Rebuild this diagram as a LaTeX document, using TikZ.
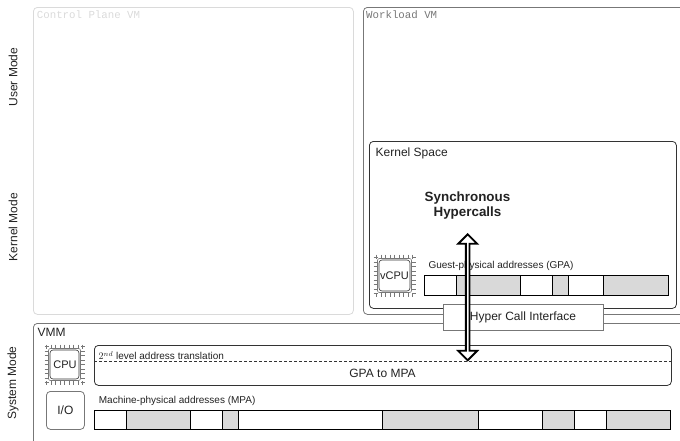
\documentclass[tikz,border=0pt]{standalone}
\usepackage{fontspec}
\setmainfont{Liberation Sans}
\newfontfamily\monofont{Liberation Mono}
\usetikzlibrary{shapes.arrows}
\definecolor{graybar}{HTML}{D9D9D9}
\definecolor{paleline}{HTML}{DADADA}
\definecolor{midline}{HTML}{777777}
\definecolor{darkline}{HTML}{333333}
\definecolor{labelcol}{HTML}{222222}
\tikzset{
    region/.style={draw,rounded corners=4pt,anchor=north west,inner sep=0pt,line width=.8pt},
    lbl/.style={text=labelcol,font=\fontsize{12}{14}\selectfont,inner sep=0pt},
    chiplbl/.style={text=labelcol,font=\fontsize{11}{13}\selectfont,inner sep=0pt},
    smalllbl/.style={text=labelcol,font=\fontsize{10}{12}\selectfont,inner sep=0pt,anchor=west},
    vmname/.style={font=\monofont\fontsize{10.75}{12}\selectfont,inner sep=0pt,anchor=west},
    modelbl/.style={lbl,rotate=90},
    cell/.style={draw=black,line width=.7pt},
    chip/.pic={
        \foreach \k in {0,...,8}{
            \draw[midline,line width=.6pt] ({-18+\k*4.5},-\chipsize) -- ({-18+\k*4.5},{-\chipsize+4});
            \draw[midline,line width=.6pt] ({-18+\k*4.5},\chipsize) -- ({-18+\k*4.5},{\chipsize-4});
            \draw[midline,line width=.6pt] (-\chipsize,{-18+\k*4.5}) -- ({-\chipsize+4},{-18+\k*4.5});
            \draw[midline,line width=.6pt] (\chipsize,{-18+\k*4.5}) -- ({\chipsize-4},{-18+\k*4.5});
        }
        \draw[midline,line width=.6pt,rounded corners=2pt] ({-\chipsize+4},{-\chipsize+4}) rectangle ({\chipsize-4},{\chipsize-4});
        \draw[darkline,line width=.6pt,rounded corners=3pt] ({-\chipsize+5.5},{-\chipsize+5.5}) rectangle ({\chipsize-5.5},{\chipsize-5.5});
    }
}
\newcommand{\chipsize}{21}
\begin{document}
\begin{tikzpicture}[x=1pt,y=-1pt]
    \useasboundingbox (0,0) rectangle (680,440);
    \clip (0,0) rectangle (680,440);

    % virtual machines
    \node[region,draw=paleline,minimum width=320pt,minimum height=307pt] (controlvm) at (33,7) {};
    \node[region,draw=midline,minimum width=330pt,minimum height=307pt] (workloadvm) at (363,7) {};
    \node[region,draw=midline,minimum width=660pt,minimum height=130pt] (vmm) at (33,323) {};
    \node[vmname,text=paleline] (controllbl) at (36.7,15) {Control Plane VM};
    \node[vmname,text=midline] (workloadlbl) at (366,15) {Workload VM};
    \node[lbl,anchor=west] (vmmlbl) at (37.5,332) {VMM};

    % kernel space
    \node[region,draw=darkline,minimum width=307pt,minimum height=167pt] (kernel) at (369,141) {};
    \node[lbl,anchor=west] (kernellbl) at (375.5,153) {Kernel Space};
    \node[lbl,font=\fontsize{13.4}{15}\selectfont\bfseries,align=center] (hypercalls) at (467.5,205.5) {Synchronous\\Hypercalls};

    % guest strip
    \node[smalllbl] (gpalbl) at (428.3,265.5) {Guest-physical addresses (GPA)};
    \foreach \a/\b in {456/520,552/568,603/668}{
        \fill[graybar] (\a,275.5) rectangle (\b,295);
    }
    \draw[cell] (424,275.5) rectangle (668,295);
    \foreach \a in {456,520,552,568,603}{
        \draw[cell] (\a,275.5) -- (\a,295);
    }
    \path (394.5,275.5) pic {chip};
    \node[chiplbl] (vcpu) at (394.5,276) {vCPU};

    % hypercall interface
    \node[draw=midline,fill=white,line width=.8pt,lbl,minimum width=160pt,minimum height=26pt] (hci) at (523,317) {Hyper Call Interface};

    % translation
    \node[region,draw=darkline,minimum width=577pt,minimum height=40pt] (transl) at (94,345) {};
    \draw[darkline,dash pattern=on 3pt off 2pt,line width=.6pt] (transl.west |- 0,361) -- (transl.east |- 0,361);
    \node[smalllbl] (transllbl) at (98.5,355.5) {$2^{nd}$ level address translation};
    \node[lbl] (gpampa) at (382.5,373.5) {GPA to MPA};

    % cpu and io
    \def\chipsize{20}
    \path (64.5,364.5) pic {chip};
    \node[chiplbl] (cpu) at (65,365) {CPU};
    \node[region,draw=midline,minimum width=38pt,minimum height=38pt] (io) at (46,391) {};
    \node[lbl] (iolbl) at (io.center) {I/O};

    % machine strip
    \node[smalllbl] (mpalbl) at (98.7,400.5) {Machine-physical addresses (MPA)};
    \foreach \a/\b in {126/190,222/238,382/478,542/574,606/670}{
        \fill[graybar] (\a,410) rectangle (\b,429);
    }
    \draw[cell] (94,410) rectangle (670,429);
    \foreach \a in {126,190,222,238,382,478,542,574,606}{
        \draw[cell] (\a,410) -- (\a,429);
    }

    % hypercall arrow
    \node[draw=black,fill=white,line width=1.8pt,shape=double arrow,shape border rotate=90,
        double arrow head extend=3.75pt,double arrow tip angle=90,minimum width=19pt,minimum height=126pt,inner sep=0pt] (hyperarrow) at (467.7,297.3) {};

    % modes
    \node[modelbl] (usermode) at (13,77) {User Mode};
    \node[modelbl] (kernelmode) at (13,227) {Kernel Mode};
    \node[modelbl] (systemmode) at (13,383) {System Mode};
\end{tikzpicture}
\end{document}
